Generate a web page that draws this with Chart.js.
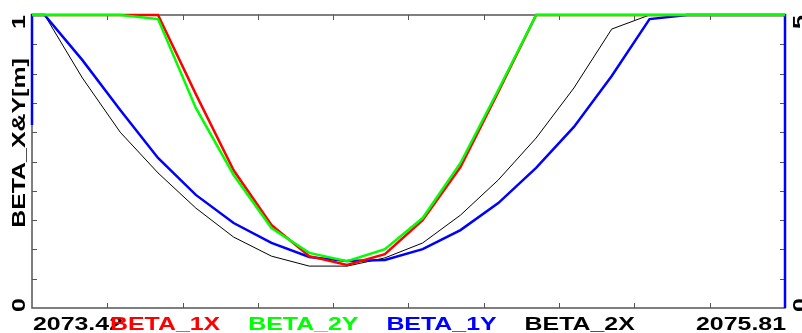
<!DOCTYPE html>
<html>
<head>
<meta charset="utf-8">
<script src="https://cdn.jsdelivr.net/npm/chart.js@4.4.1/dist/chart.umd.min.js"></script>
<style>
  html, body { margin: 0; padding: 0; background: #fff; }
  #wrap { width: 802px; height: 333px; }
</style>
</head>
<body>
<div id="wrap"><canvas id="c" width="802" height="333"></canvas></div>
<script>
// Longitudinal positions of the optics samples
const positions = [2073.42, 2073.46, 2073.58, 2073.70, 2073.82, 2073.94, 2074.06, 2074.18,
                   2074.30, 2074.42, 2074.54, 2074.66, 2074.78, 2074.90, 2075.02, 2075.14,
                   2075.26, 2075.38, 2075.50, 2075.62, 2075.74, 2075.81];

// Beta functions (values clamped to the axis top at 1)
const beta1X = [1, 1, 1, 1, 1, 0.73, 0.47, 0.283, 0.177, 0.147, 0.184, 0.30,
                0.481, 0.737, 1, 1, 1, 1, 1, 1, 1, 1];
const beta2Y = [1, 1, 1, 1, 0.986, 0.683, 0.454, 0.273, 0.188, 0.16, 0.201, 0.307,
                0.495, 0.744, 1, 1, 1, 1, 1, 1, 1, 1];
const beta1Y = [1, 1, 0.846, 0.676, 0.512, 0.386, 0.29, 0.222, 0.174, 0.16, 0.164, 0.201,
                0.266, 0.358, 0.478, 0.618, 0.792, 0.986, 1, 1, 1, 1];
const beta2X = [1, 1, 0.785, 0.60, 0.461, 0.341, 0.242, 0.177, 0.143, 0.143, 0.171, 0.222,
                0.317, 0.437, 0.58, 0.751, 0.952, 1, 1, 1, 1, 1];
// BETA_1Y enters and leaves the window on vertical edges
const beta1YEntry = 0.625;
const beta1YExit = 0;

// Axis ticks and their labels
const xTicks = [2073.42, 2073.659, 2073.898, 2074.137, 2074.376, 2074.615,
                2074.854, 2075.093, 2075.332, 2075.571, 2075.81];
const xTickLabels = ['2073.42', '', '', '', '', '', '', '', '', '', '2075.81'];
const yTicks = [0, 0.1, 0.2, 0.3, 0.4, 0.5, 0.6, 0.7, 0.8, 0.9, 1];
const yTickLabels = ['0', '', '', '', '', '', '', '', '', '', '1'];
const y2Ticks = [0, 0.5, 1, 1.5, 2, 2.5, 3, 3.5, 4, 4.5, 5];
const y2TickLabels = ['0', '', '', '', '', '', '', '', '', '', '5'];
const yTitle = 'BETA_X&Y[m]';

const pts = (vals) => vals.map((v, i) => ({ x: positions[i], y: v }));
const blueData = [{ x: positions[0], y: beta1YEntry }, ...pts(beta1Y),
                  { x: positions[positions.length - 1], y: beta1YExit }];

const FONT = 'bold 19px "Liberation Sans", Arial, sans-serif';
const SX = 1.31;   // wide lettering
const AXIS_COLOR = '#555555';

function wideText(ctx, str, x, y, align, color, rotate) {
  ctx.save();
  ctx.translate(x, y);
  if (rotate) ctx.rotate(rotate);
  ctx.scale(SX, 1);
  ctx.font = FONT;
  ctx.fillStyle = color;
  ctx.textAlign = align;
  ctx.textBaseline = 'alphabetic';
  ctx.fillText(str, 0, 0);
  ctx.restore();
}

const framePlugin = {
  id: 'frame',
  beforeDatasetsDraw(chart) {
    const { ctx, chartArea: a, scales } = chart;
    ctx.save();
    ctx.strokeStyle = AXIS_COLOR;
    ctx.lineWidth = 1.5;
    ctx.strokeRect(a.left, a.top, a.right - a.left, a.bottom - a.top);
    ctx.lineWidth = 1;
    const T = 5;
    ctx.beginPath();
    xTicks.forEach((v, i) => {
      if (i === 0 || i === xTicks.length - 1) return;
      const px = Math.round(scales.x.getPixelForValue(v)) + 0.5;
      ctx.moveTo(px, a.top); ctx.lineTo(px, a.top + T);
      ctx.moveTo(px, a.bottom); ctx.lineTo(px, a.bottom - T);
    });
    yTicks.forEach((v, i) => {
      if (i === 0 || i === yTicks.length - 1) return;
      const py = Math.round(scales.y.getPixelForValue(v)) + 0.5;
      ctx.moveTo(a.left, py); ctx.lineTo(a.left + T, py);
    });
    y2Ticks.forEach((v, i) => {
      if (i === 0 || i === y2Ticks.length - 1) return;
      const py = Math.round(scales.y2.getPixelForValue(v)) + 0.5;
      ctx.moveTo(a.right, py); ctx.lineTo(a.right - T, py);
    });
    ctx.stroke();
    ctx.restore();
  },
  afterDraw(chart) {
    const { ctx, chartArea: a, scales } = chart;
    const up = -Math.PI / 2;
    // x tick labels at the ends
    xTickLabels.forEach((lab, i) => {
      if (!lab) return;
      const px = scales.x.getPixelForValue(xTicks[i]);
      const align = i === 0 ? 'left' : 'right';
      wideText(ctx, lab, px + 1, 330, align, '#000');
    });
    // left y labels
    yTickLabels.forEach((lab, i) => {
      if (!lab) return;
      const py = scales.y.getPixelForValue(yTicks[i]);
      const cy = i === 0 ? py - 3 : py + 7;
      wideText(ctx, lab, 25, cy, 'center', '#000', up);
    });
    // right y labels
    y2TickLabels.forEach((lab, i) => {
      if (!lab) return;
      const py = scales.y2.getPixelForValue(y2Ticks[i]);
      const cy = i === 0 ? py - 3 : py + 7;
      wideText(ctx, lab, a.right + 21, cy, 'center', '#000', up);
    });
    // y title
    wideText(ctx, yTitle, 25, 143, 'center', '#000', up);
    // legend as coloured names along the bottom
    ctx.save();
    ctx.font = FONT;
    let lx = 110;
    chart.data.datasets.forEach((ds) => {
      wideText(ctx, ds.label, lx, 330, 'left', ds.borderColor);
      lx += ctx.measureText(ds.label).width * SX + 28;
    });
    ctx.restore();
  }
};

const edgeClip = { left: 3, top: 3, right: 3, bottom: 3 };

new Chart(document.getElementById('c'), {
  type: 'line',
  data: {
    datasets: [
      { label: 'BETA_1X', data: pts(beta1X), borderColor: '#ff0000', borderWidth: 2.5, order: 1, clip: edgeClip },
      { label: 'BETA_2Y', data: pts(beta2Y), borderColor: '#00ff00', borderWidth: 2.5, order: 0, clip: edgeClip },
      { label: 'BETA_1Y', data: blueData, borderColor: '#0000ff', borderWidth: 2.5, order: 2, clip: edgeClip },
      { label: 'BETA_2X', data: pts(beta2X), borderColor: '#000000', borderWidth: 1, order: 3, clip: edgeClip }
    ]
  },
  options: {
    responsive: false,
    animation: false,
    devicePixelRatio: 1,
    layout: { padding: { left: 32, right: 17, top: 15, bottom: 25 } },
    elements: { point: { radius: 0 }, line: { tension: 0, fill: false } },
    plugins: { legend: { display: false }, tooltip: { enabled: false } },
    scales: {
      x: { type: 'linear', min: 2073.42, max: 2075.81, display: false },
      y: { type: 'linear', min: 0, max: 1, display: false },
      y2: { type: 'linear', min: 0, max: 5, display: false, position: 'right' }
    }
  },
  plugins: [framePlugin]
});
</script>
</body>
</html>
